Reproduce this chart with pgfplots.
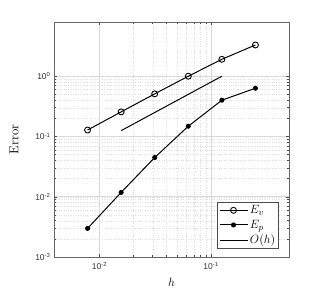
\documentclass[border=0pt]{standalone}
\usepackage{fontspec}
\setsansfont{Liberation Sans}
\usepackage{pgfplots}
\usetikzlibrary{calc}
\pgfplotsset{compat=1.18}
\begin{document}
\begin{tikzpicture}[x=1bp,y=1bp]
\begin{axis}[
  name=ax,
  xmode=log, ymode=log,
  scale only axis,
  width=235bp, height=235bp,
  xmin=0.00390625, xmax=0.5,
  ymin=1e-3, ymax=7.94,
  xtick={0.01,0.1},
  xticklabels={\textsf{10\textsuperscript{-2}},\textsf{10\textsuperscript{-1}}},
  ytick={1e-3,1e-2,1e-1,1},
  yticklabels={\textsf{10\textsuperscript{-3}},\textsf{10\textsuperscript{-2}},\textsf{10\textsuperscript{-1}},\textsf{10\textsuperscript{0}}},
  ticklabel style={font=\fontsize{8.5}{9}\selectfont, text=black!80},
  xticklabel style={yshift=-2bp},
  tick align=inside,
  tick style={black!70, line width=0.5pt},
  major tick length=3pt, minor tick length=2pt,
  grid=both,
  major grid style={black!15, line width=0.6pt},
  minor grid style={black!13, dotted, line width=0.35pt},
  axis line style={black!60, line width=0.6pt},
  xlabel={$h$}, ylabel={Error},
  label style={font=\fontsize{13}{15}\selectfont},
  xlabel style={yshift=-2bp},
  ylabel style={yshift=10bp},
  legend style={at={(0.957,0.034)}, anchor=south east, draw=black!70, line width=0.6pt, font=\fontsize{12.5}{15}\selectfont, inner sep=1.5pt, row sep=1pt},
  legend cell align=left,
  legend image code/.code={
    \draw[#1] (-2bp,0bp) -- (26bp,0bp);
    \draw[#1, only marks] plot coordinates {(12bp,0bp)};
  },
]
\addplot[black, line width=1pt, mark=o, mark size=3pt, mark options={line width=0.9pt}] coordinates {
(0.0078125,0.128) (0.015625,0.256) (0.03125,0.51) (0.0625,1.0) (0.125,1.91) (0.25,3.3)};
\addlegendentry{$E_v$}
\addplot[black, line width=1pt, mark=*, mark size=2pt] coordinates {
(0.0078125,0.00298) (0.015625,0.0118) (0.03125,0.0448) (0.0625,0.148) (0.125,0.40) (0.25,0.632)};
\addlegendentry{$E_p$}
\addplot[black, line width=1pt] coordinates {(0.015625,0.125) (0.125,1.0)};
\addlegendentry{$O(h)$}
\end{axis}
\path[use as bounding box] ($(ax.south west)+(-54bp,-38bp)$) rectangle ($(ax.north east)+(43bp,22bp)$);
\end{tikzpicture}
\end{document}
